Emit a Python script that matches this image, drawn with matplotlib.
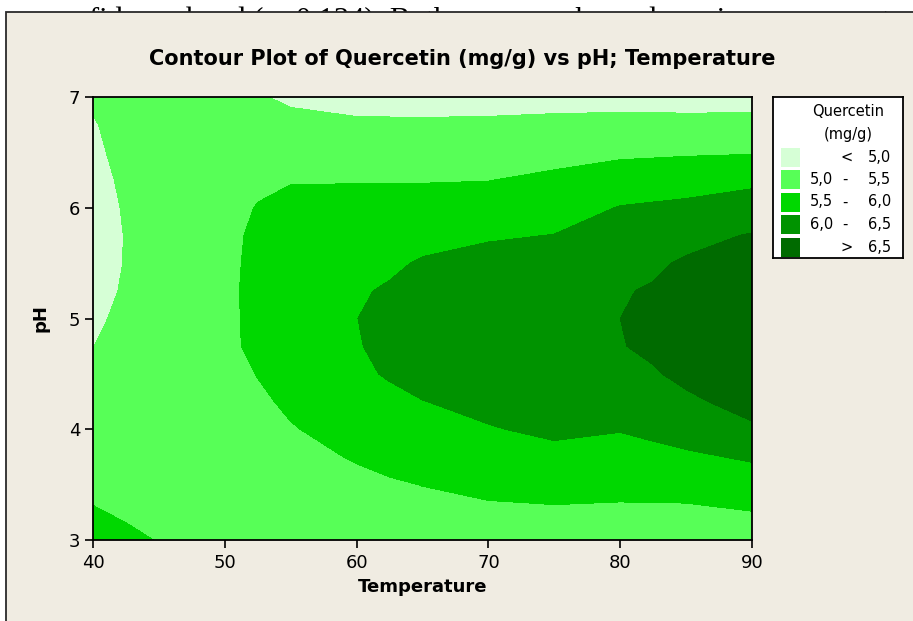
import numpy as np
import matplotlib
matplotlib.use("Agg")
import matplotlib.pyplot as plt
from matplotlib.patches import Rectangle

# ---------------- data ----------------
temperature = [40, 42.5, 45, 50, 52.5, 55, 60, 62.5, 65, 70, 75, 80, 82.5, 85, 90]
ph = [3.0, 3.25, 3.5, 3.75, 4.0, 4.25, 4.5, 4.75, 5.0, 5.25, 5.5, 5.75, 6.0,
      6.25, 6.5, 6.75, 7.0]

# Quercetin (mg/g) read column by column (one list per temperature, pH ascending)
q_t40 = [5.60, 5.52, 5.44, 5.35, 5.26, 5.17, 5.08, 4.995, 4.92, 4.86, 4.82, 4.82, 4.85, 4.89, 4.94, 4.98, 5.04]
q_t42 = [5.55, 5.47, 5.40, 5.33, 5.27, 5.21, 5.14, 5.12, 5.10, 5.045, 5.02, 5.016, 5.033, 5.06, 5.09, 5.10, 5.12]
q_t45 = [5.49, 5.44, 5.38, 5.33, 5.29, 5.26, 5.24, 5.22, 5.22, 5.24, 5.26, 5.26, 5.25, 5.23, 5.20, 5.20, 5.20]
q_t50 = [5.30, 5.30, 5.30, 5.30, 5.32, 5.35, 5.38, 5.43, 5.42, 5.42, 5.40, 5.39, 5.36, 5.30, 5.22, 5.15, 5.10]
q_t52 = [5.30, 5.31, 5.33, 5.36, 5.40, 5.45, 5.51, 5.57, 5.59, 5.60, 5.60, 5.58, 5.52, 5.42, 5.27, 5.12, 5.03]
q_t55 = [5.30, 5.33, 5.37, 5.42, 5.48, 5.55, 5.62, 5.68, 5.72, 5.74, 5.74, 5.72, 5.65, 5.47, 5.30, 5.10, 4.94]
q_t60 = [5.32, 5.37, 5.44, 5.52, 5.62, 5.72, 5.90, 5.975, 5.995, 5.97, 5.88, 5.80, 5.70, 5.47, 5.25, 5.05, 4.88]
q_t62 = [5.33, 5.40, 5.47, 5.58, 5.73, 5.87, 6.05, 6.10, 6.12, 6.03, 5.95, 5.85, 5.72, 5.47, 5.25, 5.05, 4.87]
q_t65 = [5.33, 5.42, 5.505, 5.64, 5.83, 5.99, 6.16, 6.20, 6.22, 6.15, 6.03, 5.90, 5.73, 5.47, 5.26, 5.05, 4.86]
q_t70 = [5.33, 5.44, 5.58, 5.77, 5.97, 6.13, 6.27, 6.36, 6.38, 6.33, 6.16, 5.95, 5.75, 5.49, 5.28, 5.06, 4.86]
q_t75 = [5.33, 5.45, 5.63, 5.87, 6.09, 6.25, 6.37, 6.44, 6.46, 6.42, 6.30, 6.01, 5.80, 5.60, 5.33, 5.08, 4.88]
q_t80 = [5.32, 5.44, 5.60, 5.84, 6.02, 6.18, 6.33, 6.485, 6.50, 6.475, 6.33, 6.19, 6.02, 5.75, 5.41, 5.08, 4.90]
q_t82 = [5.31, 5.44, 5.61, 5.87, 6.10, 6.30, 6.47, 6.56, 6.58, 6.53, 6.44, 6.28, 6.06, 5.77, 5.43, 5.08, 4.90]
q_t85 = [5.30, 5.44, 5.62, 5.92, 6.22, 6.44, 6.58, 6.64, 6.66, 6.62, 6.55, 6.37, 6.10, 5.80, 5.45, 5.07, 4.90]
q_t90 = [5.28, 5.49, 5.75, 6.06, 6.45, 6.62, 6.70, 6.74, 6.74, 6.72, 6.65, 6.53, 6.22, 5.90, 5.47, 5.08, 4.90]

levels = [4.0, 5.0, 5.5, 6.0, 6.5, 8.0]
legend_left = ["", "5,0", "5,5", "6,0", ""]
legend_mid = ["<", "-", "-", "-", ">"]
legend_right = ["5,0", "5,5", "6,0", "6,5", "6,5"]
colors = ["#D6FFD6", "#57FF57", "#00D800", "#009300", "#006B00"]

title = "Contour Plot of Quercetin (mg/g) vs pH; Temperature"
xlabel = "Temperature"
ylabel = "pH"
legend_title = ["Quercetin", "(mg/g)"]
doc_text = "confidence band (p=0.134). Both an areas showed maximum concentration"

Z = np.array([q_t40, q_t42, q_t45, q_t50, q_t52, q_t55, q_t60, q_t62, q_t65,
              q_t70, q_t75, q_t80, q_t82, q_t85, q_t90]).T

# ---------------- figure ----------------
W, H = 913, 621
fig = plt.figure(figsize=(W / 100, H / 100), dpi=100, facecolor="white")
BG = "#F0ECE2"

def fx(px):
    return px / W

def fy(py):
    return 1 - py / H

# document text behind the graph frame (clipped by the frame)
fig.text(fx(45), fy(29), doc_text, family="Liberation Serif", fontsize=22,
         va="baseline", ha="left", zorder=-3)

frame = Rectangle((fx(6), -0.1), 1.2, fy(12) + 0.1, transform=fig.transFigure,
                  facecolor=BG, edgecolor="#2a2a2a", linewidth=1.3, zorder=-1)
fig.add_artist(frame)

ax = fig.add_axes([fx(93), fy(540), fx(752) - fx(93), fy(97) - fy(540)])
ax.contourf(temperature, ph, Z, levels=levels, colors=colors)
ax.set_xlim(40, 90)
ax.set_ylim(3, 7)
ax.set_xticks([40, 50, 60, 70, 80, 90])
ax.set_yticks([3, 4, 5, 6, 7])
for s in ax.spines.values():
    s.set_linewidth(1.3)
    s.set_color("black")
ax.tick_params(axis="both", direction="out", length=5.8, width=1.2,
               labelsize=13, colors="black")
ax.tick_params(axis="x", pad=4.5)
ax.tick_params(axis="y", pad=3.4)
ax.set_xlabel(xlabel, fontsize=13, fontweight="bold", labelpad=4)
ax.set_ylabel(ylabel, fontsize=13, fontweight="bold", labelpad=14)

fig.text(fx(462), fy(65), title, ha="center", va="baseline", fontsize=15,
         fontweight="bold")

# legend box
lx0, ly0, lx1, ly1 = 773, 97, 903, 258
lax = fig.add_axes([fx(lx0), fy(ly1), fx(lx1) - fx(lx0), fy(ly0) - fy(ly1)])
lax.set_xlim(0, lx1 - lx0)
lax.set_ylim(ly1 - ly0, 0)
lax.set_facecolor("white")
lax.set_xticks([])
lax.set_yticks([])
for s in lax.spines.values():
    s.set_linewidth(1.3)
    s.set_color("black")
lax.text(75, 15, legend_title[0], ha="center", va="center", fontsize=10.5)
lax.text(75, 37, legend_title[1], ha="center", va="center", fontsize=10.5)
for i, c in enumerate(colors):
    yc = 60 + i * 22.5
    lax.add_patch(Rectangle((8, yc - 9.5), 19, 19, facecolor=c, edgecolor="none"))
    if legend_left[i]:
        lax.text(60, yc, legend_left[i], ha="right", va="center", fontsize=10.5)
    lax.text(74 if legend_mid[i] != "-" else 72, yc, legend_mid[i],
             ha="center", va="center", fontsize=10.5)
    lax.text(118, yc, legend_right[i], ha="right", va="center", fontsize=10.5)

fig.savefig("out.png", dpi=100, facecolor="white")
